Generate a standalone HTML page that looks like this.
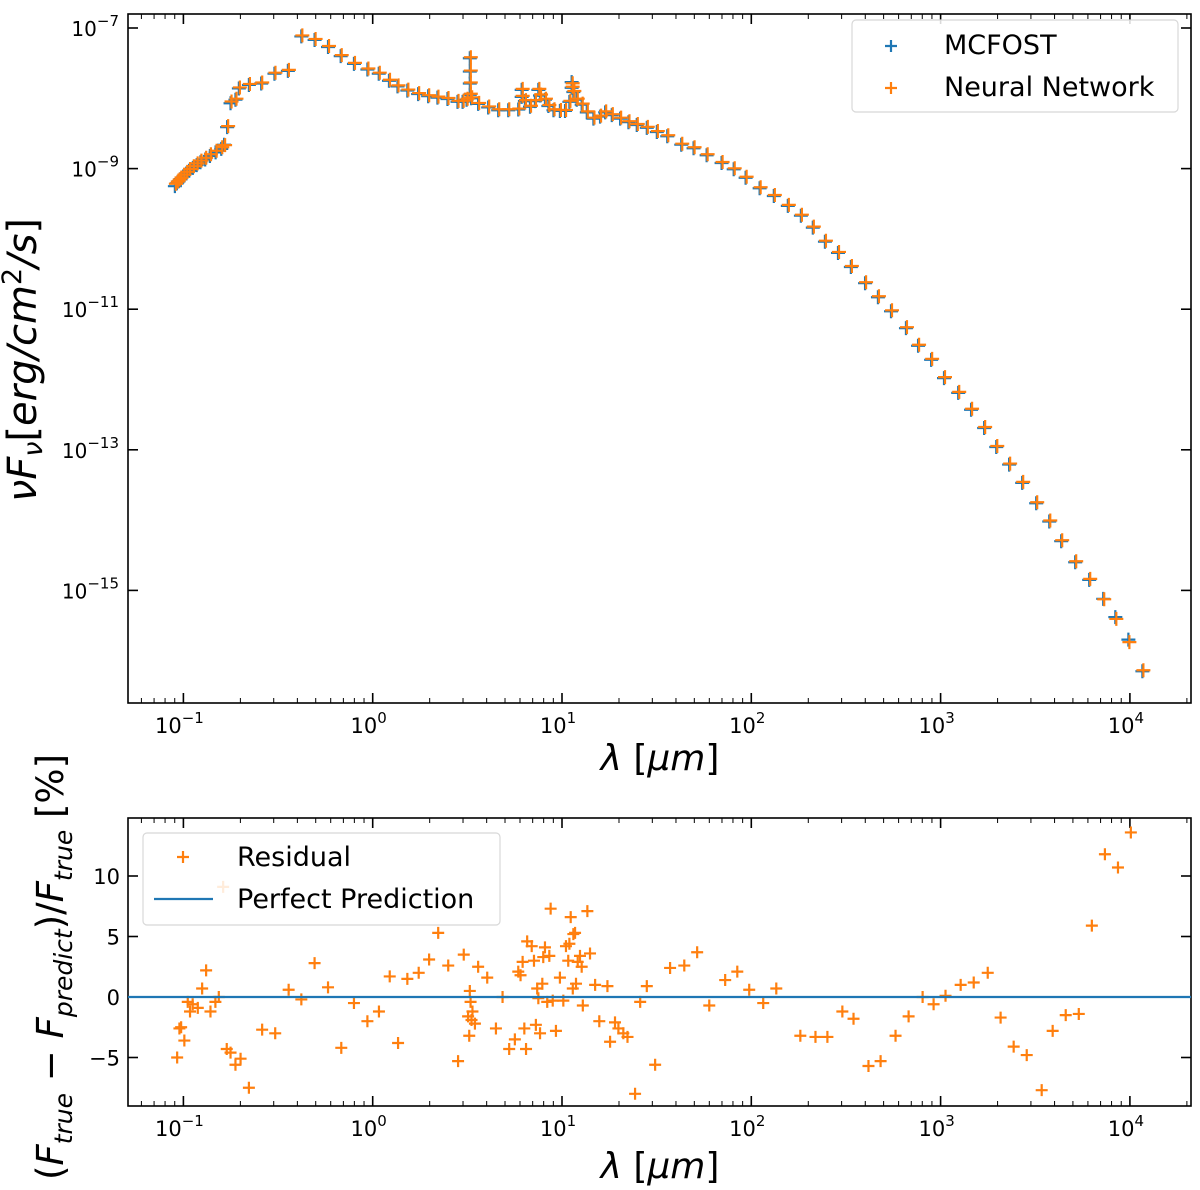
<!DOCTYPE html>
<html><head><meta charset="utf-8">
<style>
html,body{margin:0;padding:0;background:#fff;}
svg{display:block;font-family:"DejaVu Sans","Liberation Sans",sans-serif;}
</style></head>
<body>
<svg id="chart" width="1200" height="1190" viewBox="0 0 1200 1190" xmlns="http://www.w3.org/2000/svg">
<rect width="1200" height="1190" fill="#fff"/>
<g id="topPanel"></g>
<g id="botPanel"></g>
<text x="660" y="770" font-size="36" text-anchor="middle" font-style="italic">λ <tspan font-style="normal">[</tspan>μm<tspan font-style="normal">]</tspan></text>
<text x="660" y="1178" font-size="36" text-anchor="middle" font-style="italic">λ <tspan font-style="normal">[</tspan>μm<tspan font-style="normal">]</tspan></text>
<text transform="translate(36,360) rotate(-90)" font-size="40" text-anchor="middle" font-style="italic">νF<tspan font-size="27" dy="6">ν</tspan><tspan dy="-6" font-style="normal">[</tspan>erg/cm<tspan font-size="27" dy="-15" font-style="normal">2</tspan><tspan dy="15">/s</tspan><tspan font-style="normal">]</tspan></text>
<text transform="translate(63,967) rotate(-90)" font-size="37" text-anchor="middle" font-style="italic"><tspan font-style="normal">(</tspan>F<tspan font-size="25" dy="9">true</tspan><tspan dy="-9" font-style="normal"> − </tspan>F<tspan font-size="25" dy="9">predict</tspan><tspan dy="-9" font-style="normal">)/</tspan>F<tspan font-size="25" dy="9">true</tspan><tspan dy="-9" font-style="normal"> [%]</tspan></text>
</svg>
<script>
// ---- data ----
const sedLogWavelength = [-1.045,-1.035,-1.025,-1.015,-1.0,-0.985,-0.97,-0.95,-0.93,-0.91,-0.885,-0.86,-0.83,-0.80,-0.785,
 -0.769,-0.751,-0.725,-0.707,-0.654,-0.589,-0.519,-0.448,-0.377,-0.307,-0.236,-0.169,-0.099,-0.028,0.032,0.086,0.131,0.183,0.240,0.293,0.342,0.395,0.448,0.475,0.496,
 0.513,0.513,0.513,0.513,0.52,0.557,0.610,0.663,0.716,0.769,0.787,0.787,0.804,0.831,0.857,0.875,0.884,0.910,0.928,0.955,0.989,1.016,1.039,1.051,1.051,1.060,1.078,1.104,1.131,1.166,1.201,1.228,1.263,1.307,1.351,1.395,1.448,1.501,
 1.556,1.630,1.695,1.764,1.843,1.907,1.970,2.044,2.119,2.193,2.262,2.325,2.389,2.458,2.526,2.601,2.669,2.738,2.817,2.881,2.950,3.018,3.093,3.161,3.230,3.294,3.362,3.431,3.505,3.574,3.637,3.711,3.785,3.859,3.923,3.992,4.066];
const mcfostLogFlux = [-9.25,-9.21,-9.18,-9.15,-9.11,-9.07,-9.03,-8.99,-8.95,-8.91,-8.87,-8.82,-8.77,-8.72,-8.66,
 -8.41,-8.07,-8.02,-7.86,-7.81,-7.79,-7.65,-7.61,-7.12,-7.17,-7.27,-7.40,-7.51,-7.59,-7.65,-7.75,-7.83,-7.89,-7.94,-7.97,-7.99,-8.01,-8.05,-8.05,-8.02,
 -7.43,-7.62,-7.79,-7.95,-8.0,-8.08,-8.13,-8.17,-8.17,-8.16,-7.88,-7.98,-8.04,-8.12,-8.04,-7.88,-7.96,-8.02,-8.11,-8.17,-8.18,-8.18,-8.05,-7.77,-7.85,-7.91,-8.02,-8.09,-8.2,-8.29,-8.26,-8.2,-8.24,-8.29,-8.34,-8.38,-8.42,-8.48,
 -8.54,-8.66,-8.71,-8.81,-8.92,-9.01,-9.13,-9.28,-9.39,-9.53,-9.67,-9.84,-10.04,-10.2,-10.4,-10.63,-10.83,-11.03,-11.27,-11.52,-11.72,-11.98,-12.19,-12.43,-12.69,-12.96,-13.21,-13.47,-13.76,-14.02,-14.3,-14.6,-14.85,-15.12,-15.38,-15.70,-16.15];
const networkLogFlux = [-9.23,-9.2,-9.17,-9.14,-9.1,-9.06,-9.02,-8.98,-8.94,-8.9,-8.86,-8.81,-8.76,-8.71,-8.68,
 -8.41,-8.06,-8.02,-7.86,-7.81,-7.79,-7.65,-7.61,-7.12,-7.17,-7.27,-7.40,-7.51,-7.59,-7.65,-7.75,-7.83,-7.89,-7.94,-7.97,-7.99,-8.01,-8.05,-8.05,-8.02,
 -7.43,-7.62,-7.79,-7.95,-8.0,-8.08,-8.13,-8.17,-8.17,-8.16,-7.88,-7.98,-8.04,-8.12,-8.04,-7.88,-7.96,-8.02,-8.11,-8.17,-8.18,-8.18,-8.05,-7.80,-7.85,-7.91,-8.02,-8.09,-8.2,-8.29,-8.26,-8.2,-8.24,-8.29,-8.34,-8.38,-8.42,-8.48,
 -8.54,-8.66,-8.71,-8.81,-8.92,-9.01,-9.13,-9.28,-9.39,-9.53,-9.67,-9.84,-10.04,-10.2,-10.4,-10.63,-10.83,-11.03,-11.27,-11.52,-11.72,-11.98,-12.19,-12.43,-12.69,-12.96,-13.21,-13.47,-13.76,-14.02,-14.3,-14.6,-14.85,-15.14,-15.42,-15.75,-16.15];
const residualLogWavelength = [-1.033,-1.021,-1.012,-0.995,-0.977,-0.965,-0.951,-0.924,-0.901,-0.880,-0.857,-0.831,-0.813,-0.79,-0.771,-0.751,-0.725,-0.698,-0.654,-0.584,-0.515,-0.444,-0.377,-0.307,-0.236,-0.166,-0.099,-0.028,0.033,0.090,0.134,0.183,0.243,0.298,0.346,0.399,0.451,0.481,0.504,0.510,0.513,0.517,0.522,0.527,0.540,0.557,0.605,0.651,0.686,0.721,0.751,0.769,0.781,0.792,0.801,0.810,0.816,0.840,0.852,0.862,0.869,0.875,0.884,0.896,0.901,0.910,0.922,0.933,0.940,0.951,0.968,0.989,1.007,1.021,1.033,1.039,1.046,1.057,1.060,1.069,1.074,1.083,1.095,1.104,1.110,1.134,1.148,1.175,1.197,1.240,1.254,1.280,1.298,1.324,1.346,1.386,1.413,1.448,1.492,
 1.571,1.646,1.714,1.778,1.862,1.926,1.989,2.063,2.132,2.259,2.339,2.402,2.481,2.540,2.619,2.683,2.762,2.831,2.905,2.963,3.026,3.106,3.175,3.249,3.317,3.386,3.455,3.534,3.592,3.661,3.730,3.799,3.868,3.937,4.005];
const residualPercent = [-5.0,-2.6,-2.5,-3.6,-0.4,-1.2,-0.6,-0.9,0.7,2.2,-1.2,-0.4,0,9.1,-4.3,-4.6,-5.6,-5.1,-7.5,-2.7,-3.0,0.6,-0.2,2.8,0.8,-4.2,-0.5,-2.0,-1.2,1.7,-3.8,1.5,2.0,3.1,5.3,2.6,-5.3,3.5,-1.6,-3.2,0.5,-0.4,-1.9,-1.2,-2.2,2.5,1.6,-2.6,0,-4.3,-3.5,2.1,1.8,2.9,-2.6,-4.3,4.6,4.2,3.0,-2.3,0.7,-0.1,-3.0,1.1,3.3,4.1,-0.4,3.4,7.3,-0.3,-2.8,1.6,-0.3,4.2,3.0,4.4,6.6,0.7,5.2,5.3,1.1,2.9,3.4,2.5,-0.7,7.1,3.6,1.0,-2.0,0.9,-3.7,-2.1,-2.6,-3.0,-3.3,-8.0,-0.4,0.9,-5.6,
 2.4,2.6,3.7,-0.7,1.4,2.1,0.6,-0.5,0.7,-3.2,-3.3,-3.3,-1.2,-1.8,-5.7,-5.3,-3.2,-1.6,0,-0.6,0.1,1.0,1.2,2.0,-1.7,-4.1,-4.8,-7.7,-2.8,-1.5,-1.4,5.9,11.8,10.7,13.6];
const topTickExponents = [-15,-13,-11,-9,-7];
const xTickExponents = [-1,0,1,2,3,4];
const bottomTickLabels = [-5,0,5,10];

// ---- axes ----
const X0=128, X1=1191;
const xs = l => 372.7 + 189.3*l;
const TY0=14, TY1=703;
const ys = lv => 28 + (-7 - lv)*70.3;
const BY0=818, BY1=1106;
const yb = v => 997 - 12.1*v;
const NS='http://www.w3.org/2000/svg';
function mk(tag, attrs, parent){const e=document.createElementNS(NS,tag);for(const k in attrs)e.setAttribute(k,attrs[k]);parent.appendChild(e);return e;}
const topG=document.getElementById('topPanel'), botG=document.getElementById('botPanel');

function xTicks(g, y0, y1, labelY){
  for(let d=-2; d<=4; d++){
    for(let m=1;m<=9;m++){
      const x=xs(d+Math.log10(m));
      if(x<X0||x>X1) continue;
      const L = m===1?10:5;
      const t1=mk('line',{x1:x,x2:x,y1:y1,y2:y1-L,stroke:'#000','stroke-width':m===1?1.6:1},g);
      
      
      const t2=mk('line',{x1:x,x2:x,y1:y0,y2:y0+L,stroke:'#000','stroke-width':m===1?1.6:1},g);
      
      
    }
  }
  xTickExponents.forEach(e=>{
    const t=mk('text',{x:xs(e)-4,y:labelY,'font-size':21,'text-anchor':'middle'},g);
    
    
    t.innerHTML='10<tspan font-size="15" dy="-10">'+(e<0?'−'+(-e):e)+'</tspan>';
  });
}
function frame(g,y0,y1){
  const r=mk('rect',{x:X0,y:y0,width:X1-X0,height:y1-y0,fill:'none',stroke:'#000','stroke-width':1.6},g);
  
  
}
function plus(g,x,y,c,s,name){
  const p=mk('path',{d:`M${x-s} ${y}H${x+s}M${x} ${y-s}V${y+s}`,stroke:c,'stroke-width':2.2,fill:'none'},g);
  
  
}

// top panel
frame(topG,TY0,TY1);
xTicks(topG,TY0,TY1,733);
topTickExponents.forEach(e=>{
  const y=ys(e);
  mk('line',{x1:X0,x2:X0+10,y1:y,y2:y,stroke:'#000','stroke-width':1.6},topG);
  mk('line',{x1:X1,x2:X1-10,y1:y,y2:y,stroke:'#000','stroke-width':1.6},topG);
  const t=mk('text',{x:119,y:y+8,'font-size':20,'text-anchor':'end'},topG);
  
  
  t.innerHTML='10<tspan font-size="15" dy="-10">−'+(-e)+'</tspan>';
});
sedLogWavelength.forEach((l,i)=>plus(topG,xs(l),ys(mcfostLogFlux[i]),'#1f77b4',7,'mcfost-point'));
sedLogWavelength.forEach((l,i)=>plus(topG,xs(l)+1,ys(networkLogFlux[i])-1,'#ff7f0e',7,'network-point'));
// top legend
(function(){
  const lg=mk('g',{},topG);
  
  
  mk('rect',{x:852,y:20,width:326,height:92,rx:4,fill:'#fff','fill-opacity':0.85,stroke:'#d8d8d8','stroke-width':1.2},lg);
  plus(lg,891,46,'#1f77b4',6,'legend-marker-mcfost');
  plus(lg,891,88,'#ff7f0e',6,'legend-marker-network');
  const a=mk('text',{x:944,y:54,'font-size':27},lg);a.textContent='MCFOST';
  
  
  const b=mk('text',{x:944,y:96,'font-size':27},lg);b.textContent='Neural Network';
  
  
})();

// bottom panel
frame(botG,BY0,BY1);
xTicks(botG,BY0,BY1,1136);
bottomTickLabels.forEach(v=>{
  const y=yb(v);
  mk('line',{x1:X0,x2:X0+10,y1:y,y2:y,stroke:'#000','stroke-width':1.6},botG);
  mk('line',{x1:X1,x2:X1-10,y1:y,y2:y,stroke:'#000','stroke-width':1.6},botG);
  const t=mk('text',{x:120,y:y+8,'font-size':21,'text-anchor':'end'},botG);
  
  
  t.textContent = v<0?'−'+(-v):String(v);
});
residualLogWavelength.forEach((l,i)=>plus(botG,xs(l),yb(residualPercent[i]),'#ff7f0e',6,'residual-point'));
const zl=mk('line',{x1:X0,x2:X1,y1:yb(0),y2:yb(0),stroke:'#1f77b4','stroke-width':2.2},botG);


(function(){
  const lg=mk('g',{},botG);
  
  
  mk('rect',{x:143,y:833,width:357,height:92,rx:4,fill:'#fff','fill-opacity':0.85,stroke:'#d8d8d8','stroke-width':1.2},lg);
  plus(lg,183,857,'#ff7f0e',6,'legend-marker-residual');
  mk('line',{x1:154,x2:213,y1:899,y2:899,stroke:'#1f77b4','stroke-width':2.2},lg);
  const a=mk('text',{x:237,y:866,'font-size':27},lg);a.textContent='Residual';
  
  
  const b=mk('text',{x:237,y:908,'font-size':27},lg);b.textContent='Perfect Prediction';
  
  
})();
</script>
</body></html>
